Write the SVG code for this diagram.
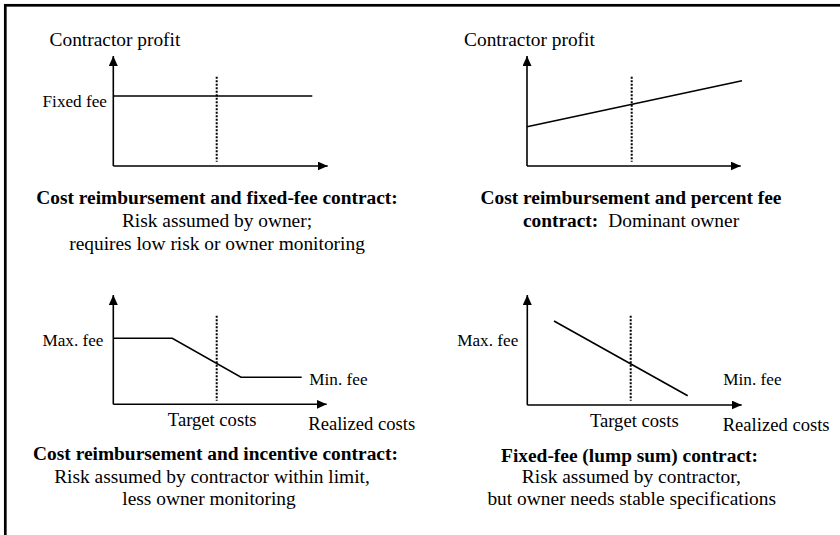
<svg xmlns="http://www.w3.org/2000/svg" width="840" height="535" viewBox="0 0 840 535">
  <style>
    text { font-family: "Liberation Serif", "Times New Roman", serif; fill: #000; }
    .title { font-size: 19.4px; }
    .cap { font-size: 19.4px; text-anchor: middle; }
    .capb { font-size: 19.4px; text-anchor: middle; font-weight: bold; }
    .fee { font-size: 17.2px; }
    .cost { font-size: 18.6px; }
    .axis { stroke: #000; stroke-width: 1.6; fill: none; marker-end: url(#arrow); }
    .curve { stroke: #000; stroke-width: 1.6; fill: none; stroke-linejoin: miter; }
    .target { stroke: #000; stroke-width: 2; stroke-dasharray: 2 1.5; fill: none; }
    .frame { stroke: #000; stroke-width: 2.7; fill: none; }
  </style>
  <defs>
    <marker id="arrow" markerUnits="userSpaceOnUse" markerWidth="11" markerHeight="10" refX="10" refY="4.5" orient="auto">
      <path d="M0,0 L10,4.5 L0,9 z" fill="#000"/>
    </marker>
  </defs>

  <rect width="840" height="535" fill="#fff"/>
  <!-- outer frame (right and bottom edges lie outside the canvas) -->
  <rect class="frame" x="5.3" y="5.3" width="900" height="600"/>

  <!-- Cost reimbursement and fixed-fee contract -->
  <g id="fixed-fee-panel">
    <text class="title" x="49.5" y="45.7">Contractor profit</text>
    <g id="fixed-fee-axes">
      <line class="axis" x1="113.3" y1="166" x2="113.3" y2="56"/>
      <line class="axis" x1="113.3" y1="166" x2="327.7" y2="166"/>
    </g>
    <line class="target" x1="216.7" y1="76.7" x2="216.7" y2="161.7"/>
    <line class="curve" x1="113.3" y1="96" x2="312.3" y2="96"/>
    <text class="fee" x="107" y="106.5" text-anchor="end">Fixed fee</text>
    <text class="capb" x="217" y="204.3">Cost reimbursement and fixed-fee contract:</text>
    <text class="cap" x="217" y="227.3">Risk assumed by owner;</text>
    <text class="cap" x="217" y="250">requires low risk or owner monitoring</text>
  </g>

  <!-- Cost reimbursement and percent fee contract -->
  <g id="percent-fee-panel">
    <text class="title" x="464" y="45.7">Contractor profit</text>
    <g id="percent-fee-axes">
      <line class="axis" x1="527" y1="166" x2="527" y2="56"/>
      <line class="axis" x1="527" y1="166" x2="740.7" y2="166"/>
    </g>
    <line class="target" x1="631.7" y1="76.7" x2="631.7" y2="161.7"/>
    <line class="curve" x1="527" y1="126.7" x2="742" y2="80.7"/>
    <text class="capb" x="631" y="204.3">Cost reimbursement and percent fee</text>
    <text class="cap" x="631" y="227.3"><tspan font-weight="bold">contract:</tspan><tspan dx="10">Dominant owner</tspan></text>
  </g>

  <!-- Cost reimbursement and incentive contract -->
  <g id="incentive-panel">
    <g id="incentive-axes">
      <line class="axis" x1="113.3" y1="404.3" x2="113.3" y2="295"/>
      <line class="axis" x1="113.3" y1="404.3" x2="326.7" y2="404.3"/>
    </g>
    <line class="target" x1="216.7" y1="315.7" x2="216.7" y2="400.7"/>
    <polyline class="curve" points="113.3,338.3 172.3,338.3 241,377.3 301.7,377.3"/>
    <text class="fee" x="103.5" y="346" text-anchor="end">Max. fee</text>
    <text class="fee" x="309.3" y="385">Min. fee</text>
    <text class="cost" x="212.2" y="426" text-anchor="middle">Target costs</text>
    <text class="cost" x="308.3" y="430">Realized costs</text>
    <text class="capb" x="215.5" y="460">Cost reimbursement and incentive contract:</text>
    <text class="cap" x="212" y="483.3">Risk assumed by contractor within limit,</text>
    <text class="cap" x="209" y="505">less owner monitoring</text>
  </g>

  <!-- Fixed-fee (lump sum) contract -->
  <g id="lump-sum-panel">
    <g id="lump-sum-axes">
      <line class="axis" x1="527.3" y1="405" x2="527.3" y2="295"/>
      <line class="axis" x1="527.3" y1="405" x2="741.7" y2="405"/>
    </g>
    <line class="target" x1="630.7" y1="315.7" x2="630.7" y2="400.7"/>
    <line class="curve" x1="554" y1="321" x2="687.7" y2="395.7"/>
    <text class="fee" x="518.3" y="346" text-anchor="end">Max. fee</text>
    <text class="fee" x="723.3" y="385">Min. fee</text>
    <text class="cost" x="634.3" y="426.7" text-anchor="middle">Target costs</text>
    <text class="cost" x="722.7" y="430.7">Realized costs</text>
    <text class="capb" x="629.5" y="461.7">Fixed-fee (lump sum) contract:</text>
    <text class="cap" x="631.3" y="483.3">Risk assumed by contractor,</text>
    <text class="cap" x="631.7" y="505">but owner needs stable specifications</text>
  </g>
</svg>
